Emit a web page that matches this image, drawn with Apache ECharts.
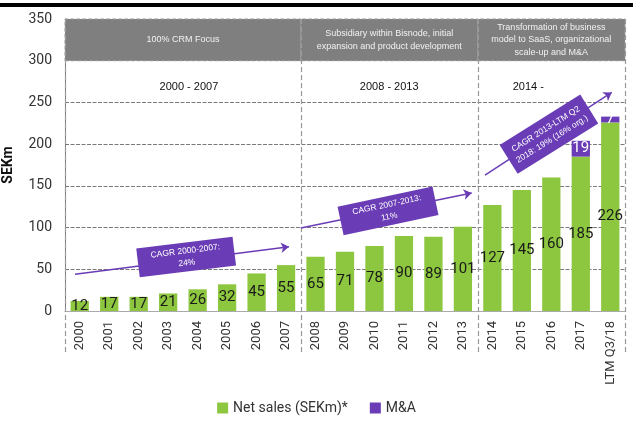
<!DOCTYPE html>
<html>
<head>
<meta charset="utf-8">
<script src="https://cdn.jsdelivr.net/npm/echarts@6/dist/echarts.min.js"></script>
<style>
  html, body { margin: 0; padding: 0; background: #fff; }
  #chart { width: 633px; height: 421px; }
</style>
</head>
<body>
<div id="chart"></div>
<script>
// Yearly figures
const categories = ['2000','2001','2002','2003','2004','2005','2006','2007','2008','2009','2010','2011','2012','2013','2014','2015','2016','2017','LTM Q3/18'];
const netSales = [12,17,17,21,26,32,45,55,65,71,78,90,89,101,127,145,160,185,226];
const mna = [null,null,null,null,null,null,null,null,null,null,null,null,null,null,null,null,null,19,7];

// Company phases (first and last category of each)
const phaseFirst = ['2000','2008','2014'];
const phaseLast = ['2007','2013','LTM Q3/18'];
const phaseTitles = [
  '100% CRM Focus',
  'Subsidiary within Bisnode, initial\nexpansion and product development',
  'Transformation of business\nmodel to SaaS, organizational\nscale-up and M&A'
];
const phasePeriods = ['2000 - 2007', '2008 - 2013', '2014 -'];

// Growth call-outs: arrow start/end and label anchor, in (category position, SEKm)
const cagrTexts = ['CAGR 2000-2007:\n24%', 'CAGR 2007-2013:\n11%', 'CAGR 2013-LTM Q2\n2018: 19% (16% org.)'];
const cagrArrowFrom = [[-0.16, 44], [7.5, 99.5], [13.75, 163]];
const cagrArrowTo = [[7.1, 77], [13.3, 141.5], [18.05, 262]];
const cagrAnchor = [[3.61, 64.7], [10.46, 120], [15.92, 212]];
const cagrAngle = [7, 12, 32];

const GREEN = '#8dc63f';
const PURPLE = '#6a3db6';
const FONT = 'Roboto';

const idx = c => categories.indexOf(c);

const chart = echarts.init(document.getElementById('chart'), null, { renderer: 'canvas' });

const bandAreas = phaseFirst.map((f, i) => [
  { xAxis: idx(f) - 0.5, yAxis: 300, name: phaseTitles[i] },
  { xAxis: idx(phaseLast[i]) + 0.5, yAxis: 350 }
]);
const periodAreas = phaseFirst.map((f, i) => [
  {
    xAxis: idx(f) - 0.5, yAxis: 250, name: phasePeriods[i],
    label: { offset: i === 2 ? [-23, 5] : [i === 0 ? 6 : 0, 5] }
  },
  { xAxis: idx(phaseLast[i]) + 0.5, yAxis: 300 }
]);

chart.setOption({
  animation: false,
  textStyle: { fontFamily: FONT },
  grid: { left: 65, right: 8, top: 19, bottom: 110, containLabel: false, outerBoundsMode: 'none' },
  legend: {
    bottom: 1,
    left: 'center',
    itemWidth: 11,
    itemHeight: 11,
    itemGap: 22,
    icon: 'rect',
    textStyle: { fontSize: 14, color: '#333', fontFamily: FONT },
    data: ['Net sales (SEKm)*', 'M&A']
  },
  xAxis: [
    {
      type: 'category',
      data: categories,
      axisLine: { lineStyle: { color: '#aaa', width: 1 } },
      axisTick: { show: false },
      axisLabel: { rotate: 90, fontSize: 13, color: '#333', margin: 10, interval: 0 }
    },
    { type: 'value', min: -0.5, max: 18.5, show: false }
  ],
  yAxis: {
    type: 'value',
    min: 0, max: 350, interval: 50,
    name: 'SEKm',
    nameLocation: 'middle',
    nameGap: 50,
    nameTextStyle: { fontSize: 14, fontWeight: 'bold', color: '#111' },
    axisLine: { show: true, onZero: false, lineStyle: { color: '#777' } },
    axisTick: { show: false },
    axisLabel: { fontSize: 14, color: '#333', margin: 13 },
    splitLine: { lineStyle: { color: '#7a7a7a', type: [4, 1.5], width: 1 } }
  },
  series: [
    {
      name: 'Net sales (SEKm)*',
      type: 'bar',
      stack: 'sales',
      data: netSales,
      barWidth: '62%',
      itemStyle: { color: GREEN },
      label: { show: true, position: 'inside', color: '#1a1a1a', fontSize: 15 }
    },
    {
      name: 'M&A',
      type: 'bar',
      stack: 'sales',
      data: mna,
      barWidth: '62%',
      itemStyle: { color: PURPLE },
      label: { show: true, position: 'inside', color: '#fff', fontSize: 15 }
    },
    {
      name: 'phases',
      type: 'scatter',
      xAxisIndex: 1,
      data: [],
      silent: true,
      markArea: {
        silent: true,
        itemStyle: { color: '#7f7f7f', borderColor: '#999', borderWidth: 1, borderType: 'dashed' },
        label: {
          position: 'inside', color: '#f2f2f2', fontSize: 9, lineHeight: 12.5,
          fontFamily: 'Liberation Sans', align: 'center'
        },
        data: bandAreas
      }
    },
    {
      name: 'periods',
      type: 'scatter',
      xAxisIndex: 1,
      data: [],
      silent: true,
      markArea: {
        silent: true,
        itemStyle: { color: 'rgba(0,0,0,0)' },
        label: { position: 'inside', color: '#111', fontSize: 11, fontFamily: 'Liberation Sans' },
        data: periodAreas
      }
    },
    {
      name: 'cagr arrows',
      type: 'lines',
      coordinateSystem: 'cartesian2d',
      xAxisIndex: 1,
      silent: true,
      z: 5,
      symbol: ['none', 'arrow'],
      symbolSize: [0, 8],
      lineStyle: { color: PURPLE, width: 1.5, opacity: 1 },
      data: cagrArrowFrom.map((p, i) => ({ coords: [p, cagrArrowTo[i]] }))
    },
    {
      name: 'cagr boxes',
      type: 'scatter',
      xAxisIndex: 1,
      silent: true,
      z: 6,
      symbol: 'rect',
      itemStyle: { color: PURPLE, opacity: 1 },
      label: {
        show: true, position: 'inside', color: '#fff', fontSize: 8.5, lineHeight: 12,
        fontFamily: 'Liberation Sans', align: 'center', formatter: p => p.name
      },
      data: cagrAnchor.map((p, i) => ({
        name: cagrTexts[i],
        value: p,
        symbolSize: i === 2 ? [95, 34] : [97, 29],
        symbolRotate: cagrAngle[i],
        label: { rotate: cagrAngle[i] }
      }))
    }
  ]
});

// Dashed phase separators, running from the top of the chart down past the year labels
const bounds = [-0.5].concat(phaseLast.map(c => idx(c) + 0.5));
const yTop = chart.convertToPixel({ yAxisIndex: 0 }, 350);
const yBottom = chart.convertToPixel({ yAxisIndex: 0 }, 0) + 44;
chart.setOption({
  graphic: bounds.map(b => {
    const x = Math.round(chart.convertToPixel({ xAxisIndex: 1 }, b)) + 0.5;
    return {
      type: 'line',
      silent: true,
      z: 4,
      shape: { x1: x, y1: yTop, x2: x, y2: yBottom },
      style: { stroke: '#999', lineWidth: 1.2, lineDash: [5, 3] }
    };
  }).concat([{
    type: 'rect',
    silent: true,
    shape: { x: 0, y: 3, width: 633, height: 4 },
    style: { fill: '#000' }
  }])
});
</script>
</body>
</html>
